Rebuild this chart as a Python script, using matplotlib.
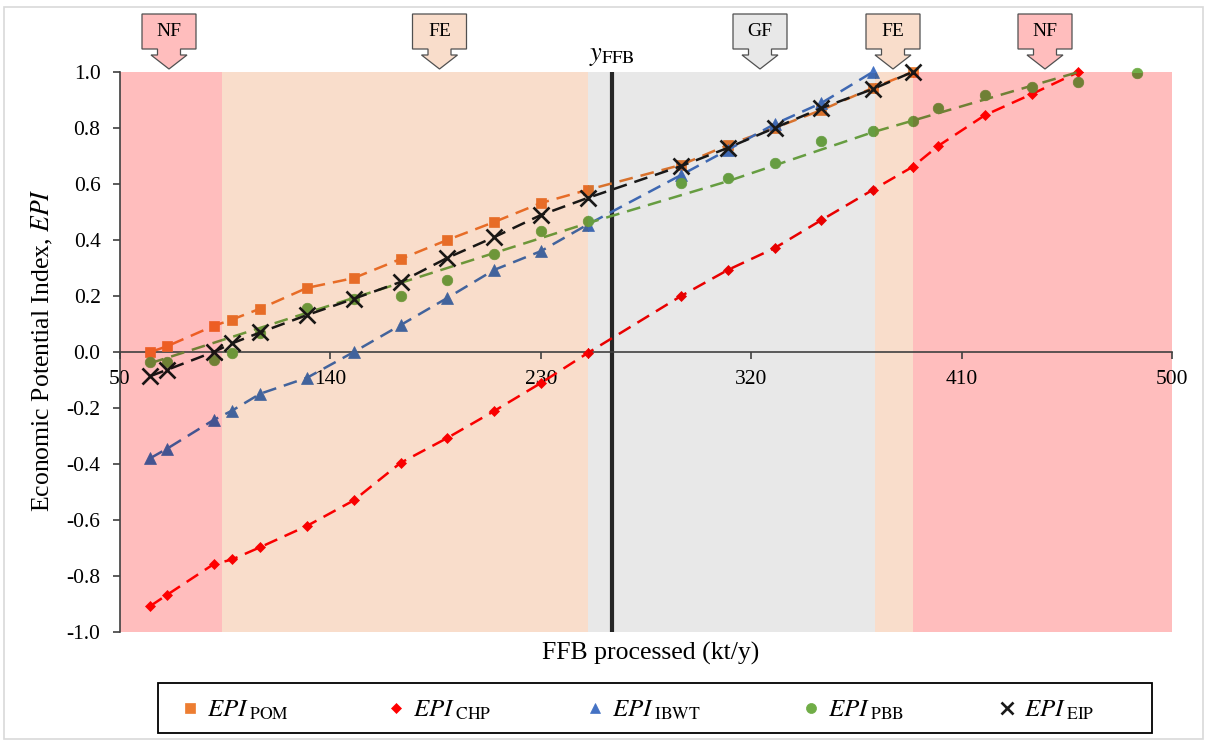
import numpy as np
import matplotlib
matplotlib.use('Agg')
import matplotlib.pyplot as plt
import matplotlib.colors as mcolors
from matplotlib.patches import Rectangle, Polygon
from matplotlib.lines import Line2D

plt.rcParams['font.family'] = ['Liberation Serif', 'DejaVu Serif']
plt.rcParams['mathtext.fontset'] = 'stix'
plt.rcParams['axes.unicode_minus'] = False

# ---------------- data ----------------
ffb_x = [63, 70, 90, 98, 110, 130, 150, 170, 190, 210, 230, 250, 290, 310, 330, 350, 372, 389]
chp_x = ffb_x + [400, 420, 440, 460]
ibwt_x = ffb_x[:17]
pbb_x = chp_x + [485]

epi_pom = [0.0, 0.02, 0.093, 0.116, 0.155, 0.229, 0.264, 0.332, 0.400, 0.464, 0.532, 0.579,
           0.668, 0.739, 0.800, 0.864, 0.943, 1.0]
epi_chp = [-0.907, -0.868, -0.758, -0.741, -0.697, -0.621, -0.530, -0.396, -0.307, -0.211, -0.111,
           -0.004, 0.200, 0.293, 0.371, 0.471, 0.579, 0.661, 0.736, 0.846, 0.921, 1.0]
epi_ibwt = [-0.379, -0.346, -0.243, -0.209, -0.149, -0.092, 0.0, 0.096, 0.193, 0.293, 0.360,
            0.455, 0.632, 0.722, 0.814, 0.889, 1.0]
epi_pbb = [-0.037, -0.037, -0.029, -0.005, 0.067, 0.156, 0.190, 0.200, 0.257, 0.350, 0.432, 0.468,
           0.604, 0.621, 0.675, 0.754, 0.790, 0.825, 0.871, 0.918, 0.946, 0.964, 0.996]
pbb_fit_x = [63, 130, 250, 310, 372, 389, 460]
pbb_fit_y = [-0.04, 0.14, 0.46, 0.61, 0.785, 0.826, 1.0]
epi_eip = [-0.086, -0.064, 0.0, 0.031, 0.070, 0.132, 0.190, 0.250, 0.336, 0.410, 0.489, 0.550,
           0.664, 0.729, 0.800, 0.871, 0.939, 1.0]

y_ffb = 260.4
zone_edges = [50, 93.6, 250.2, 372.9, 389.2, 500]
zone_labels = ['NF', 'FE', 'GF', 'FE', 'NF']
zone_colors = {'NF': '#FFBDBD', 'FE': '#F9DDCB', 'GF': '#E8E8E8'}

x_ticks = [50, 140, 230, 320, 410, 500]
y_ticks = [-1.0, -0.8, -0.6, -0.4, -0.2, 0.0, 0.2, 0.4, 0.6, 0.8, 1.0]
y_tick_labels = ['-1.0', '-0.8', '-0.6', '-0.4', '-0.2', '0.0', '0.2', '0.4', '0.6', '0.8', '1.0']

series_names = ['POM', 'CHP', 'IBWT', 'PBB', 'EIP']

series = [
    dict(x=ffb_x, y=epi_pom, lx=ffb_x, ly=epi_pom, color='#ED7D31', marker='s', ms=7.4, mew=0.5),
    dict(x=chp_x, y=epi_chp, lx=chp_x, ly=epi_chp, color='#FF0000', marker='D', ms=5.4, mew=0.5),
    dict(x=ibwt_x, y=epi_ibwt, lx=ibwt_x, ly=epi_ibwt, color='#4472C4', marker='^', ms=8, mew=0.5),
    dict(x=pbb_x, y=epi_pbb, lx=pbb_fit_x, ly=pbb_fit_y, color='#70AD47', marker='o', ms=7.6, mew=0.5),
    dict(x=ffb_x, y=epi_eip, lx=ffb_x, ly=epi_eip, color='#1A1A1A', marker='x', ms=11, mew=1.9),
]

# ---------------- figure ----------------
W, H = 1207, 742
fig = plt.figure(figsize=(W / 100, H / 100), dpi=100)
ax = fig.add_axes([120 / W, 1 - 632 / H, (1172 - 120) / W, (632 - 72) / H])
ax.set_xlim(50, 500)
ax.set_ylim(-1, 1)


def mult(c, r):
    a = np.array(mcolors.to_rgb(c))
    b = np.array(mcolors.to_rgb(r))
    return tuple(a * b)


def px(x, y):
    return (x / W, 1 - y / H)


# zones
for i, lab in enumerate(zone_labels):
    ax.axvspan(zone_edges[i], zone_edges[i + 1], color=zone_colors[lab], lw=0, zorder=0)

ax.axvline(y_ffb, color='#262626', lw=3, zorder=2)

# clip regions (multiply blending of zone colour over the series)
clips = [(zone_edges[i], -1, zone_edges[i + 1] - zone_edges[i], 2, zone_colors[lab])
         for i, lab in enumerate(zone_labels)]
clips.append((40, 1, 470, 0.2, 'white'))

for i, s in enumerate(series):
    for (x0, y0, w, h, zc) in clips:
        col = mult(s['color'], zc)
        rect = Rectangle((x0, y0), w, h, transform=ax.transData)
        ln, = ax.plot(s['lx'], s['ly'], color=col, lw=1.8, ls=(0, (5.5, 3.2)),
                      zorder=3 + i * 0.1)
        ln.set_clip_path(rect)
        rect2 = Rectangle((x0, y0), w, h, transform=ax.transData)
        mk, = ax.plot(s['x'], s['y'], ls='none', marker=s['marker'], ms=s['ms'],
                      color=col, mec=col, mew=s['mew'], zorder=3.05 + i * 0.1)
        mk.set_clip_path(rect2)

# axes styling
for sp in ['top', 'right']:
    ax.spines[sp].set_visible(False)
ax.spines['bottom'].set_position(('data', 0))
ax.spines['bottom'].set_color('#404040')
ax.spines['bottom'].set_linewidth(1.2)
ax.spines['left'].set_color('#404040')
ax.spines['left'].set_linewidth(1.2)
ax.set_xticks(x_ticks)
ax.set_xticklabels([str(v) for v in x_ticks])
ax.set_yticks(y_ticks)
ax.set_yticklabels(y_tick_labels)
ax.tick_params(axis='x', direction='out', length=5, width=1.2, color='#404040',
               labelsize=15.5, pad=8)
ax.tick_params(axis='y', direction='out', length=5, width=1.2, color='#404040',
               labelsize=15.5, pad=9)

# y_FFB label
ax.annotate(r'$y_{\mathrm{FFB}}$', xy=(y_ffb, 1.0), xytext=(0, 3), textcoords='offset points',
            ha='center', va='bottom', fontsize=19, annotation_clip=False)

# axis labels
fig.text(*px(42, 350), 'Economic Potential Index, $\\mathit{EPI}$', rotation=90,
         ha='center', va='center', fontsize=18.5)
fig.text(*px(651, 653), 'FFB processed (kt/y)', ha='center', va='center', fontsize=18.5)

# callouts
callouts = [(169, 'NF'), (439.5, 'FE'), (760, 'GF'), (893, 'FE'), (1045, 'NF')]
for cx, lab in callouts:
    pts = [(cx - 27, 14), (cx + 27, 14), (cx + 27, 49), (cx + 11.5, 49), (cx + 11.5, 55),
           (cx + 18, 55), (cx, 69), (cx - 18, 55), (cx - 11.5, 55), (cx - 11.5, 49),
           (cx - 27, 49)]
    poly = Polygon([px(*p) for p in pts], closed=True, transform=fig.transFigure,
                   facecolor=zone_colors[lab], edgecolor='#505050', lw=0.9)
    fig.patches.append(poly)
    fig.text(*px(cx, 32), lab, ha='center', va='center', fontsize=14)

# figure border
fig.patches.append(Rectangle(px(4, 739), (1203 - 4) / W, (739 - 7) / H, transform=fig.transFigure,
                             fill=False, edgecolor='#D9D9D9', lw=1.2))

# legend (manual layout)
fig.patches.append(Rectangle(px(158, 733), (1152 - 158) / W, 50 / H, transform=fig.transFigure,
                             fill=False, edgecolor='black', lw=1.3))
legend_text_x = [207, 413, 612, 828, 1024]
for s, name, tx in zip(series, series_names, legend_text_x):
    mx, my = px(tx - 17, 708)
    fig.lines.append(Line2D([mx], [my], transform=fig.transFigure, ls='none',
                            marker=s['marker'], ms=s['ms'] * (0.95 if s['marker'] != 'x' else 0.8),
                            color=s['color'], mec=s['color'], mew=s['mew']))
    fig.text(*px(tx, 717), r'$\mathit{EPI}_{\;\mathrm{%s}}$' % name, ha='left',
             va='baseline', fontsize=18)

fig.savefig('out.png', dpi=100)
